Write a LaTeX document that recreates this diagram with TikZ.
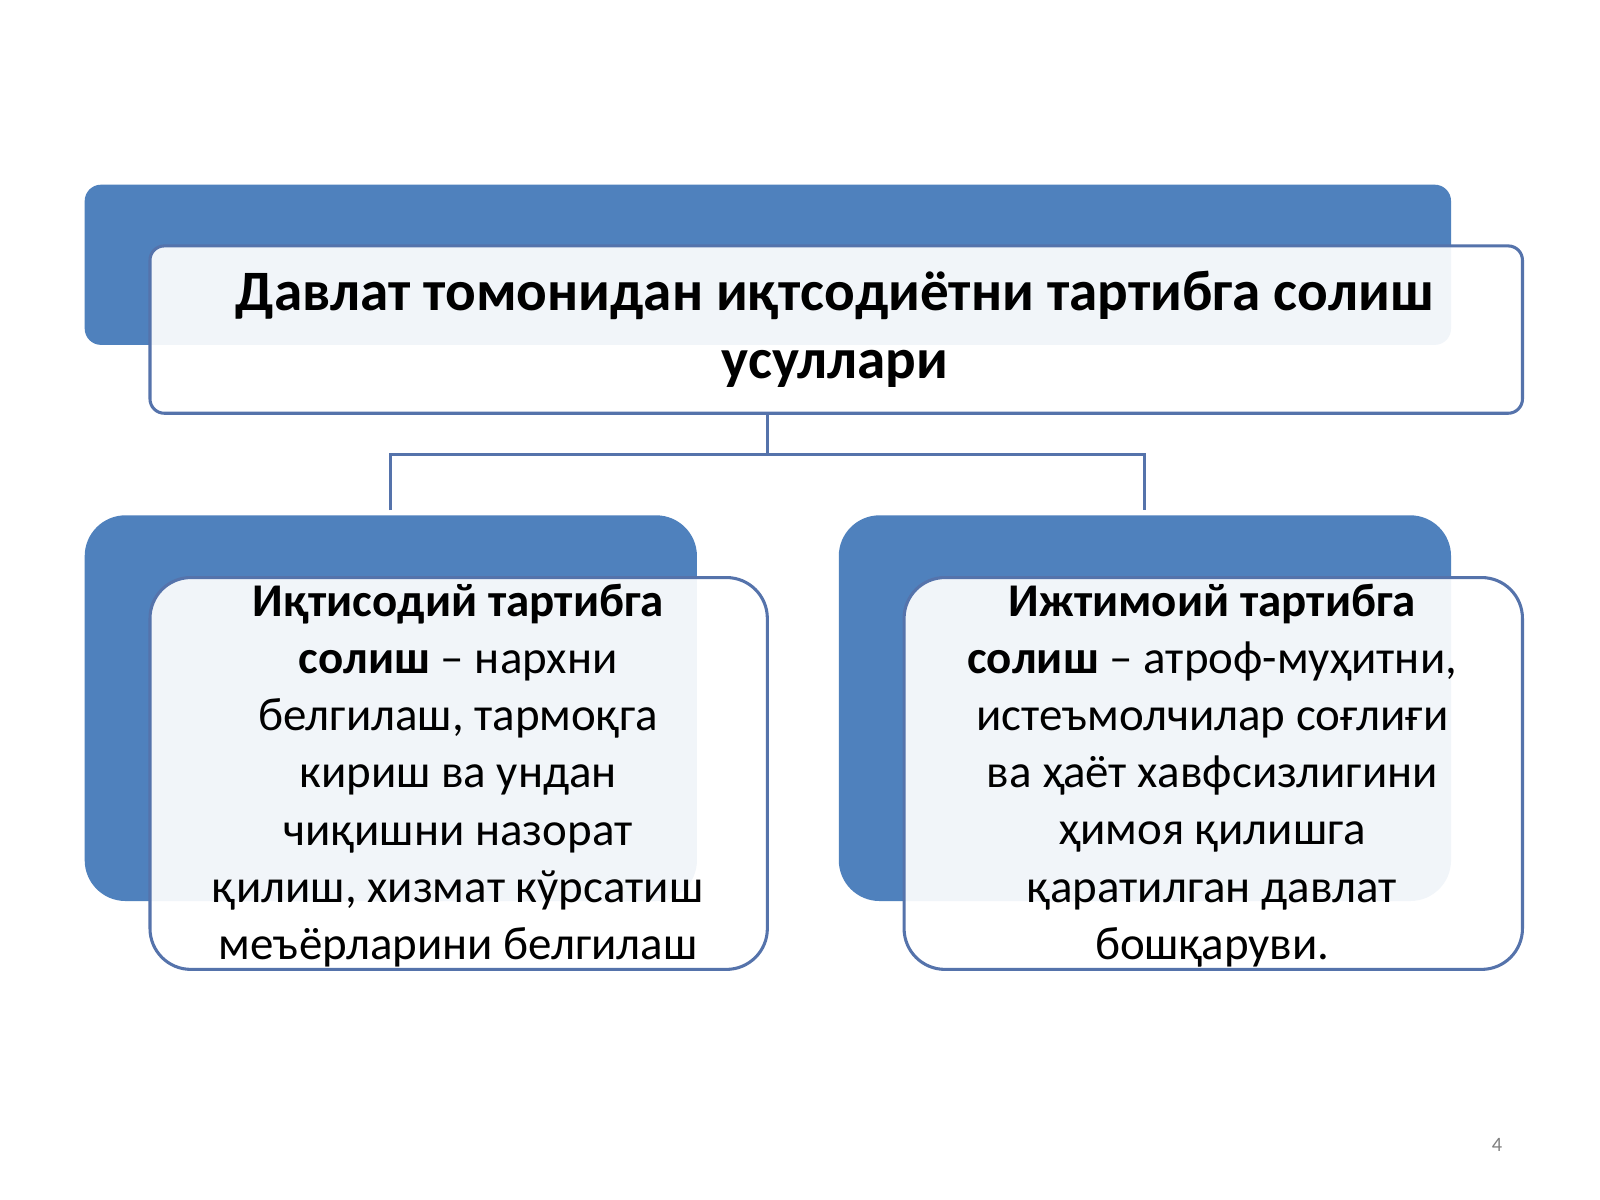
\documentclass[tikz,border=0pt]{standalone}
\usepackage{fontspec}
\setmainfont{Carlito}
\begin{document}
\begin{tikzpicture}[x=0.5pt,y=-0.5pt,
  back/.style={fill=blueback,draw=none},
  front/.style={fill=white,fill opacity=0.92,draw=frameblue,line width=1.5pt,text opacity=1},
  txt/.style={align=center,font=\fontsize{23}{28}\selectfont},
  conn/.style={draw=frameblue,line width=1.5pt}]
\definecolor{blueback}{HTML}{4F81BD}
\definecolor{frameblue}{HTML}{5573AB}
\useasboundingbox (0,0) rectangle (1568,1176);
\fill[white] (0,0) rectangle (1568,1176);
% top
\fill[blueback,rounded corners=8pt] (83,181) rectangle (1422,338);
\draw[front,rounded corners=7pt] (147,241) rectangle (1492,405);
\node[txt,font=\fontsize{28}{33.5}\selectfont\bfseries] (title) at (818,323) {Давлат томонидан иқтсодиётни тартибга солиш\\усуллари};
% connectors
\coordinate (top) at (752,405);
\coordinate (mid) at (752,445);
\coordinate (l) at (383,445);
\coordinate (r) at (1122,445);
\coordinate (ld) at (383,500);
\coordinate (rd) at (1122,500);
\draw[conn] (top) -- (mid);
\draw[conn] (ld) -- (l) -- (r) -- (rd);
% left
\fill[blueback,rounded corners=20pt] (83,505) rectangle (683,883);
\draw[front,rounded corners=20pt] (147,566) rectangle (752,950);
\node[txt] (lt) at (449,760) {\textbf{Иқтисодий тартибга}\\\textbf{солиш} – нархни\\белгилаш, тармоқга\\кириш ва ундан\\чиқишни назорат\\қилиш, хизмат кўрсатиш\\меъёрларини белгилаш};
% right
\fill[blueback,rounded corners=20pt] (822,505) rectangle (1422,883);
\draw[front,rounded corners=20pt] (886,566) rectangle (1492,950);
\node[txt] (rt) at (1188,760) {\textbf{Ижтимоий тартибга}\\\textbf{солиш} – атроф-муҳитни,\\истеъмолчилар соғлиғи\\ва ҳаёт хавфсизлигини\\ҳимоя қилишга\\қаратилган давлат\\бошқаруви.};
\node[text=gray,font=\fontsize{10}{12}\selectfont] (pn) at (1467,1122) {4};
\end{tikzpicture}
\end{document}
